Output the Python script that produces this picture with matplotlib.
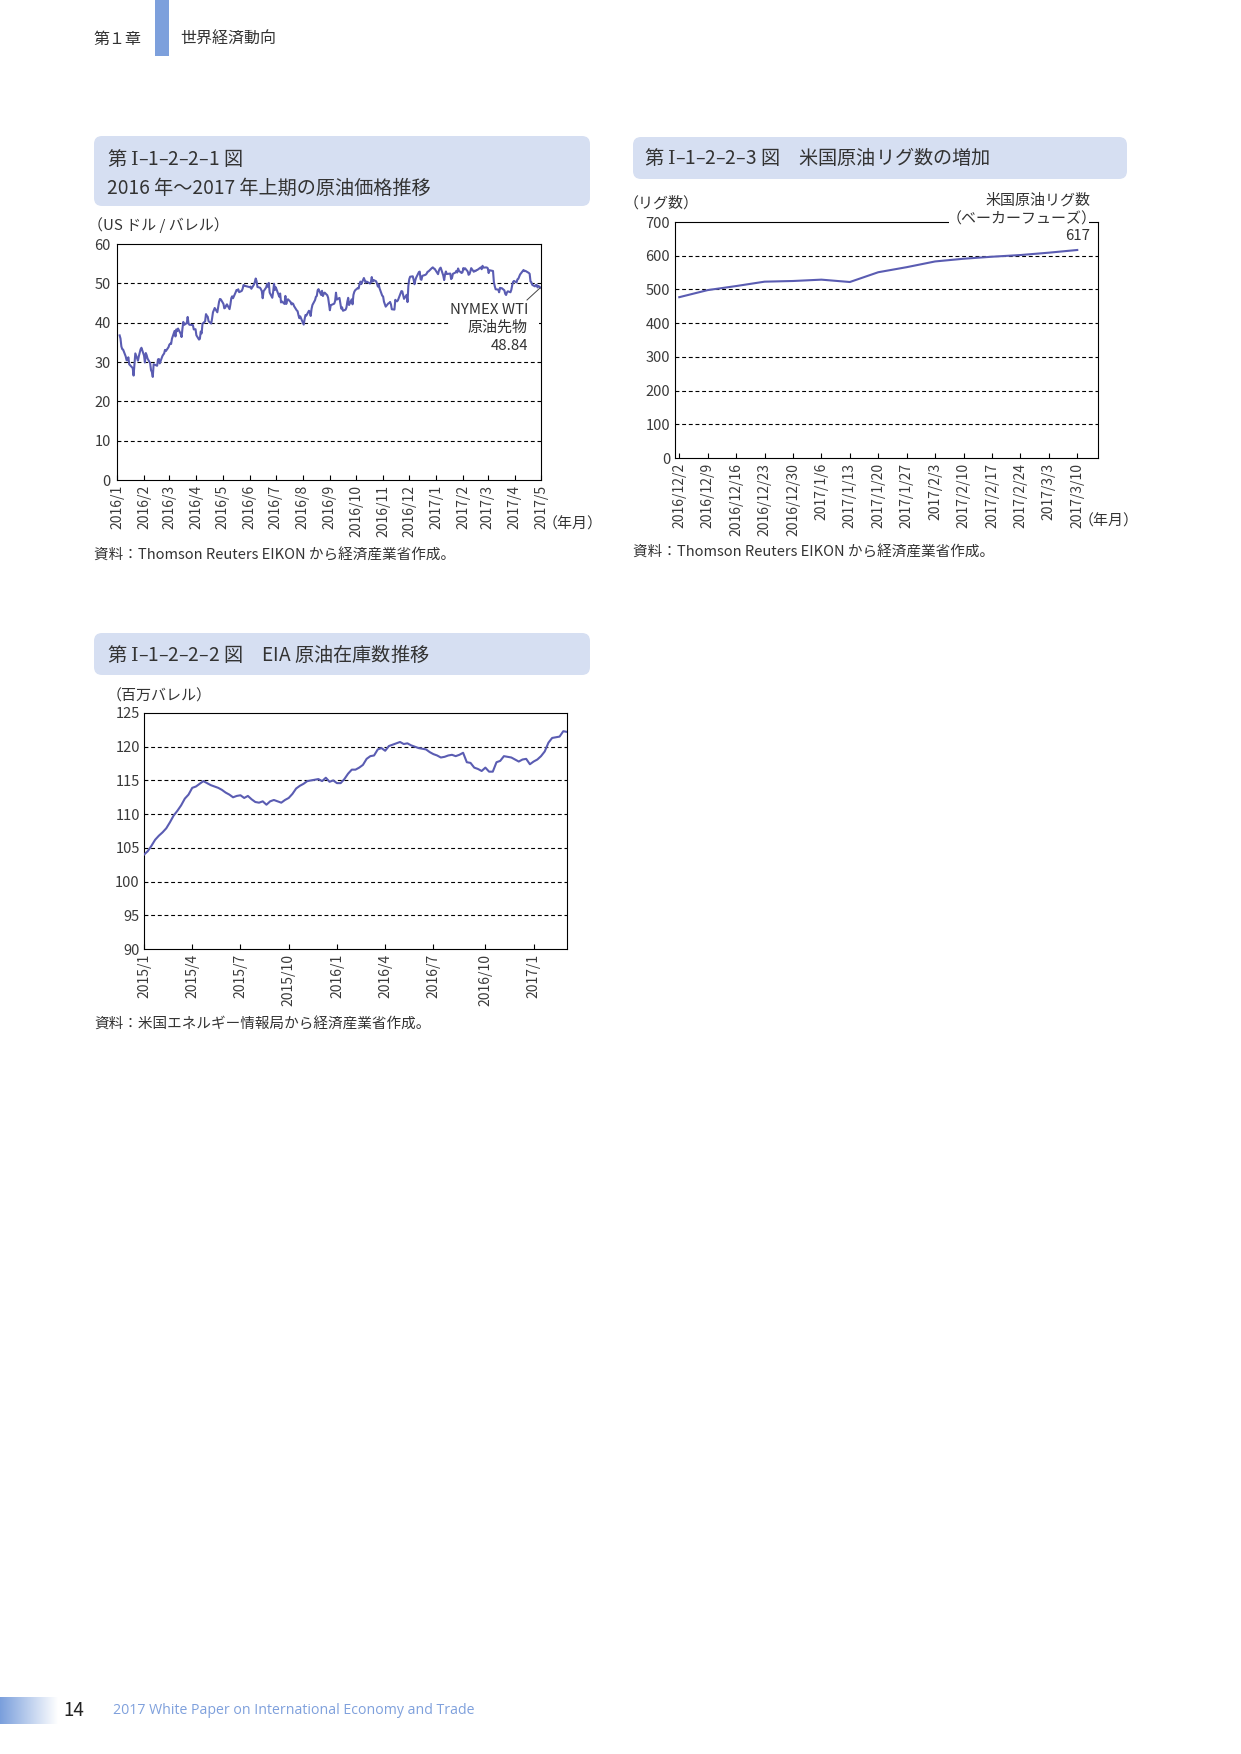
import numpy as np
import pandas as pd
import matplotlib
matplotlib.use('Agg')
from matplotlib import pyplot as plt
from matplotlib.patches import FancyBboxPatch, Rectangle
from matplotlib.colors import LinearSegmentedColormap

plt.rcParams['font.family'] = ['Noto Sans CJK JP', 'DejaVu Sans']
plt.rcParams['mathtext.fontset'] = 'dejavuserif'

# --- data: WTI front month (US$/bbl), daily closes
wti_dates = [
    "2016/1/4", "2016/1/5", "2016/1/6", "2016/1/7", "2016/1/8", "2016/1/11", "2016/1/12", "2016/1/13", "2016/1/14", "2016/1/15", "2016/1/19", "2016/1/20", "2016/1/21", "2016/1/22", "2016/1/25", "2016/1/26", "2016/1/27", "2016/1/28", "2016/1/29",
    "2016/2/1", "2016/2/2", "2016/2/3", "2016/2/4", "2016/2/5", "2016/2/8", "2016/2/9", "2016/2/10", "2016/2/11", "2016/2/12", "2016/2/16", "2016/2/17", "2016/2/18", "2016/2/19", "2016/2/22", "2016/2/23", "2016/2/24", "2016/2/25", "2016/2/26", "2016/2/29",
    "2016/3/1", "2016/3/2", "2016/3/3", "2016/3/4", "2016/3/7", "2016/3/8", "2016/3/9", "2016/3/10", "2016/3/11", "2016/3/14", "2016/3/15", "2016/3/16", "2016/3/17", "2016/3/18", "2016/3/21", "2016/3/22", "2016/3/23", "2016/3/24", "2016/3/28", "2016/3/29", "2016/3/30", "2016/3/31",
    "2016/4/1", "2016/4/4", "2016/4/5", "2016/4/6", "2016/4/7", "2016/4/8", "2016/4/11", "2016/4/12", "2016/4/13", "2016/4/14", "2016/4/15", "2016/4/18", "2016/4/19", "2016/4/20", "2016/4/21", "2016/4/22", "2016/4/25", "2016/4/26", "2016/4/27", "2016/4/28", "2016/4/29",
    "2016/5/2", "2016/5/3", "2016/5/4", "2016/5/5", "2016/5/6", "2016/5/9", "2016/5/10", "2016/5/11", "2016/5/12", "2016/5/13", "2016/5/16", "2016/5/17", "2016/5/18", "2016/5/19", "2016/5/20", "2016/5/23", "2016/5/24", "2016/5/25", "2016/5/26", "2016/5/27", "2016/5/31",
    "2016/6/1", "2016/6/2", "2016/6/3", "2016/6/6", "2016/6/7", "2016/6/8", "2016/6/9", "2016/6/10", "2016/6/13", "2016/6/14", "2016/6/15", "2016/6/16", "2016/6/17", "2016/6/20", "2016/6/21", "2016/6/22", "2016/6/23", "2016/6/24", "2016/6/27", "2016/6/28", "2016/6/29", "2016/6/30",
    "2016/7/1", "2016/7/5", "2016/7/6", "2016/7/7", "2016/7/8", "2016/7/11", "2016/7/12", "2016/7/13", "2016/7/14", "2016/7/15", "2016/7/18", "2016/7/19", "2016/7/20", "2016/7/21", "2016/7/22", "2016/7/25", "2016/7/26", "2016/7/27", "2016/7/28", "2016/7/29",
    "2016/8/1", "2016/8/2", "2016/8/3", "2016/8/4", "2016/8/5", "2016/8/8", "2016/8/9", "2016/8/10", "2016/8/11", "2016/8/12", "2016/8/15", "2016/8/16", "2016/8/17", "2016/8/18", "2016/8/19", "2016/8/22", "2016/8/23", "2016/8/24", "2016/8/25", "2016/8/26", "2016/8/29", "2016/8/30", "2016/8/31",
    "2016/9/1", "2016/9/2", "2016/9/6", "2016/9/7", "2016/9/8", "2016/9/9", "2016/9/12", "2016/9/13", "2016/9/14", "2016/9/15", "2016/9/16", "2016/9/19", "2016/9/20", "2016/9/21", "2016/9/22", "2016/9/23", "2016/9/26", "2016/9/27", "2016/9/28", "2016/9/29", "2016/9/30",
    "2016/10/3", "2016/10/4", "2016/10/5", "2016/10/6", "2016/10/7", "2016/10/10", "2016/10/11", "2016/10/12", "2016/10/13", "2016/10/14", "2016/10/17", "2016/10/18", "2016/10/19", "2016/10/20", "2016/10/21", "2016/10/24", "2016/10/25", "2016/10/26", "2016/10/27", "2016/10/28", "2016/10/31",
    "2016/11/1", "2016/11/2", "2016/11/3", "2016/11/4", "2016/11/7", "2016/11/8", "2016/11/9", "2016/11/10", "2016/11/11", "2016/11/14", "2016/11/15", "2016/11/16", "2016/11/17", "2016/11/18", "2016/11/21", "2016/11/22", "2016/11/23", "2016/11/25", "2016/11/28", "2016/11/29", "2016/11/30",
    "2016/12/1", "2016/12/2", "2016/12/5", "2016/12/6", "2016/12/7", "2016/12/8", "2016/12/9", "2016/12/12", "2016/12/13", "2016/12/14", "2016/12/15", "2016/12/16", "2016/12/19", "2016/12/20", "2016/12/21", "2016/12/22", "2016/12/23", "2016/12/27", "2016/12/28", "2016/12/29", "2016/12/30",
    "2017/1/3", "2017/1/4", "2017/1/5", "2017/1/6", "2017/1/9", "2017/1/10", "2017/1/11", "2017/1/12", "2017/1/13", "2017/1/17", "2017/1/18", "2017/1/19", "2017/1/20", "2017/1/23", "2017/1/24", "2017/1/25", "2017/1/26", "2017/1/27", "2017/1/30", "2017/1/31",
    "2017/2/1", "2017/2/2", "2017/2/3", "2017/2/6", "2017/2/7", "2017/2/8", "2017/2/9", "2017/2/10", "2017/2/13", "2017/2/14", "2017/2/15", "2017/2/16", "2017/2/17", "2017/2/21", "2017/2/22", "2017/2/23", "2017/2/24", "2017/2/27", "2017/2/28",
    "2017/3/1", "2017/3/2", "2017/3/3", "2017/3/6", "2017/3/7", "2017/3/8", "2017/3/9", "2017/3/10", "2017/3/13", "2017/3/14", "2017/3/15", "2017/3/16", "2017/3/17", "2017/3/20", "2017/3/21", "2017/3/22", "2017/3/23", "2017/3/24", "2017/3/27", "2017/3/28", "2017/3/29", "2017/3/30", "2017/3/31",
    "2017/4/3", "2017/4/4", "2017/4/5", "2017/4/6", "2017/4/7", "2017/4/10", "2017/4/11", "2017/4/12", "2017/4/13", "2017/4/17", "2017/4/18", "2017/4/19", "2017/4/20", "2017/4/21", "2017/4/24", "2017/4/25", "2017/4/26", "2017/4/27", "2017/4/28",
    "2017/5/1",
]
wti_price = [
    36.76, 35.97, 33.97, 33.27, 33.16, 31.41, 30.44, 30.48, 31.20, 29.42, 28.46, 26.55, 29.53, 32.19, 30.34, 31.45, 32.30, 33.22, 33.62,
    31.62, 29.88, 32.28, 31.72, 30.89, 29.69, 27.94, 27.45, 26.21, 29.44, 29.04, 30.66, 30.77, 29.64, 31.48, 31.87, 32.15, 33.07, 32.78, 33.75,
    34.40, 34.66, 34.57, 35.92, 37.90, 36.50, 38.29, 37.84, 38.50, 37.18, 36.34, 38.46, 40.20, 39.44, 39.91, 41.45, 39.79, 39.46, 39.39, 38.28, 38.32, 38.34,
    36.79, 35.70, 35.89, 37.75, 37.26, 39.72, 40.36, 42.17, 41.76, 41.50, 40.36, 39.78, 41.08, 42.63, 43.18, 43.73, 42.64, 44.04, 45.33, 46.03, 45.92,
    44.78, 43.65, 43.78, 44.32, 44.66, 43.44, 44.66, 46.23, 46.70, 46.21, 47.72, 48.31, 48.19, 48.49, 47.75, 48.08, 48.62, 49.56, 49.48, 49.33, 49.10,
    49.01, 49.17, 48.62, 49.69, 50.36, 51.23, 50.56, 49.07, 48.88, 48.49, 48.01, 46.21, 47.98, 48.96, 49.85, 49.13, 50.11, 47.64, 46.33, 47.85, 49.88, 48.33,
    48.99, 46.60, 47.43, 45.14, 45.41, 44.76, 46.80, 44.75, 45.68, 45.95, 45.24, 44.65, 44.94, 44.75, 44.19, 43.13, 42.92, 41.92, 41.14, 41.60,
    40.06, 39.51, 40.83, 41.93, 41.80, 43.02, 42.77, 41.71, 43.49, 44.49, 45.74, 46.58, 46.79, 48.22, 48.52, 47.05, 48.10, 46.77, 47.33, 47.64, 46.98, 46.35, 44.70,
    43.16, 44.44, 44.83, 45.50, 47.62, 45.88, 46.29, 44.90, 43.58, 43.91, 43.03, 43.30, 43.85, 45.34, 46.32, 44.48, 45.93, 44.67, 47.05, 47.83, 48.24,
    48.81, 48.69, 49.83, 50.44, 49.81, 51.35, 50.79, 50.18, 50.44, 50.35, 49.94, 50.29, 51.60, 50.43, 50.85, 50.52, 49.96, 49.18, 49.72, 48.70, 46.86,
    46.67, 45.34, 44.66, 44.07, 44.89, 44.98, 45.27, 44.66, 43.41, 43.32, 45.81, 45.57, 45.42, 45.69, 47.49, 48.03, 47.96, 46.06, 47.08, 45.23, 49.44,
    51.06, 51.68, 51.79, 50.93, 49.77, 50.84, 51.50, 52.83, 52.98, 51.04, 50.90, 51.90, 52.12, 52.23, 52.49, 52.95, 53.02, 53.90, 54.06, 53.77, 53.72,
    52.33, 53.26, 53.76, 53.99, 51.96, 50.82, 52.25, 53.01, 52.37, 52.48, 51.08, 51.37, 52.42, 52.75, 53.18, 52.75, 53.78, 53.17, 52.63, 52.81,
    53.88, 53.54, 53.83, 53.01, 52.17, 52.34, 53.00, 53.86, 52.93, 53.20, 53.11, 53.36, 53.40, 54.06, 53.59, 54.45, 53.99, 54.05, 54.01,
    53.83, 52.61, 53.33, 53.20, 53.14, 50.28, 49.28, 48.49, 48.40, 47.72, 48.86, 48.75, 48.78, 48.22, 47.34, 47.04, 47.70, 47.97, 47.73, 48.37, 49.51, 50.35, 50.60,
    50.24, 51.03, 51.15, 51.70, 52.24, 53.08, 53.40, 53.11, 53.18, 52.65, 52.41, 50.44, 50.27, 49.62, 49.23, 49.56, 49.62, 48.97, 49.33,
    48.84,
]

# --- data: US oil rig count (Baker Hughes), weekly
rig_labels = ["2016/12/2", "2016/12/9", "2016/12/16", "2016/12/23", "2016/12/30",
              "2017/1/6", "2017/1/13", "2017/1/20", "2017/1/27", "2017/2/3",
              "2017/2/10", "2017/2/17", "2017/2/24", "2017/3/3", "2017/3/10"]
rig_count = [477, 498, 510, 523, 525, 529, 522, 551, 566, 583, 591, 597, 602, 609, 617]

# --- data: EIA crude stocks (million bbl), weekly from 2015/1/2
eia_stock = [
    104.0, 104.5, 105.3, 106.2, 106.8, 107.3, 107.9, 108.8, 109.8, 110.5,
    111.3, 112.3, 112.9, 113.9, 114.1, 114.5, 114.9, 114.6, 114.3, 114.1,
    113.9, 113.6, 113.2, 112.9, 112.5, 112.7, 112.8, 112.4, 112.7, 112.2,
    111.8, 111.7, 111.9, 111.4, 111.9, 112.1, 111.9, 111.7, 112.1, 112.4,
    113.0, 113.8, 114.2, 114.5, 114.9, 115.0, 115.1, 115.2, 114.9, 115.4,
    114.8, 115.0, 114.6, 114.6, 115.2, 116.0, 116.6, 116.6, 116.9, 117.3,
    118.2, 118.6, 118.7, 119.6, 119.8, 119.4, 120.1, 120.3, 120.5, 120.7,
    120.4, 120.5, 120.2, 120.0, 119.8, 119.7, 119.6, 119.2, 118.9, 118.7,
    118.4, 118.5, 118.7, 118.8, 118.6, 118.8, 119.1, 117.7, 117.6, 116.9,
    116.7, 116.4, 116.9, 116.3, 116.3, 117.7, 117.9, 118.6, 118.5, 118.4,
    118.1, 117.8, 118.1, 118.2, 117.4, 117.8, 118.1, 118.6, 119.3, 120.6,
    121.3, 121.4, 121.5, 122.3, 122.2,
]
eia_ticks = ["2015/1", "2015/4", "2015/7", "2015/10", "2016/1", "2016/4", "2016/7", "2016/10", "2017/1"]

W, H = 1241, 1754
LINE = '#5a5cb2'
TXT = '#333333'
TICK = '#3a3a3a'
FS = 10
NOTE = 10.8

fig = plt.figure(figsize=(W / 100, H / 100), dpi=100)
fig.patch.set_facecolor('white')


def rect(x0, y0, x1, y1):
    return [x0 / W, 1 - y1 / H, (x1 - x0) / W, (y1 - y0) / H]


def style(ax, grid_vals, ypad):
    for s in ax.spines.values():
        s.set_linewidth(0.8)
        s.set_color('black')
    for v in grid_vals:
        ax.axhline(v, color='black', lw=0.8, ls=(0, (3.5, 2.5)), zorder=1)
    ax.tick_params(axis='y', length=0, pad=ypad, labelsize=FS + 0.5, labelcolor=TICK)
    ax.tick_params(axis='x', direction='in', length=3.6, width=0.8, pad=3.5,
                   labelsize=FS, labelcolor=TICK, labelrotation=90)


# chart 1: WTI
ax1 = fig.add_axes(rect(117, 244, 541, 480))
wti_x = pd.to_datetime(wti_dates, format='%Y/%m/%d')
ax1.plot(wti_x, wti_price, color=LINE, lw=1.5, zorder=3)
months = pd.date_range('2016-01-01', '2017-05-01', freq='MS')
ax1.set_xlim(months[0], months[-1])
ax1.set_xticks(months)
ax1.set_xticklabels([f"{d.year}/{d.month}" for d in months])
ax1.set_ylim(0, 60)
ax1.set_yticks(range(0, 61, 10))
style(ax1, range(10, 60, 10), 4.5)

# chart 3: rig count
ax3 = fig.add_axes(rect(675, 222, 1098, 458))
rx = np.arange(len(rig_count))
ax3.plot(rx, rig_count, color=LINE, lw=1.5, zorder=3)
ax3.set_xlim(-0.15, len(rig_count) - 1 + 0.73)
ax3.set_xticks(rx)
ax3.set_xticklabels(rig_labels)
ax3.set_ylim(0, 700)
ax3.set_yticks(range(0, 701, 100))
style(ax3, range(100, 700, 100), 3.5)

# chart 2: EIA stocks
ax2 = fig.add_axes(rect(144, 713, 567, 949))
eia_x = pd.date_range('2015-01-02', periods=len(eia_stock), freq='W-FRI')
ax2.plot(eia_x, eia_stock, color=LINE, lw=1.5, zorder=3)
ax2.set_xlim(eia_x[0], eia_x[-1])
tick_pos = [eia_x[(eia_x.year == int(t.split('/')[0])) & (eia_x.month == int(t.split('/')[1]))][0]
            for t in eia_ticks]
ax2.set_xticks(tick_pos)
ax2.set_xticklabels(eia_ticks)
ax2.set_ylim(90, 125)
ax2.set_yticks(range(90, 126, 5))
style(ax2, range(95, 125, 5), 3)

# page overlay in pixel coords
top = fig.add_axes([0, 0, 1, 1], zorder=10)
top.set_axis_off()


def put(x, y, s, fs=FS, ha='left', color=TXT, **kw):
    top.text(x, y, s, fontsize=fs, ha=ha, va='center', color=color, **kw)


# header
top.add_patch(Rectangle((155, 0), 14, 56, fc='#7da0dc', ec='none'))
put(93, 39, '第１章', fs=11.5)
put(180, 39, '世界経済動向', fs=11.5)

# title boxes
for (x0, y0, x1, y1) in [(94, 136, 590, 206), (633, 137, 1127, 179), (94, 633, 590, 675)]:
    top.add_patch(FancyBboxPatch((x0, y0), x1 - x0, y1 - y0,
                                 boxstyle='round,pad=0,rounding_size=8',
                                 fc='#d6dff2', ec='none'))
TFS = 13.8
put(107, 159, r'第 $\mathrm{I}$–1–2–2–1 図', fs=TFS)
put(107, 188, '2016 年～2017 年上期の原油価格推移', fs=TFS)
put(644, 158, r'第 $\mathrm{I}$–1–2–2–3 図　米国原油リグ数の増加', fs=TFS)
put(107, 655, r'第 $\mathrm{I}$–1–2–2–2 図　EIA 原油在庫数推移', fs=TFS)

# chart 1 texts
put(88, 225, '（US ドル / バレル）', fs=NOTE)
top.add_patch(Rectangle((450, 298), 89, 58, fc='white', ec='none'))
put(528, 310, 'NYMEX WTI', ha='right', fs=NOTE)
put(528, 328, '原油先物', ha='right', fs=NOTE)
put(528, 346, '48.84', ha='right', fs=NOTE)
top.plot([527, 540], [300, 288], color='#444444', lw=0.7)
put(543, 524, '（年月）', fs=NOTE)
put(94, 556, '資料：Thomson Reuters EIKON から経済産業省作成。', fs=10.5)

# chart 3 texts
put(624, 203, '（リグ数）', fs=NOTE)
put(1090, 200, '米国原油リグ数', ha='right', fs=NOTE)
top.add_patch(Rectangle((949, 213), 140, 17, fc='white', ec='none'))
put(1097, 219, '（ベーカーフューズ）', ha='right', fs=NOTE)
put(1090, 236, '617', ha='right', fs=NOTE)
put(1079, 521, '（年月）', fs=NOTE)
put(633, 553, '資料：Thomson Reuters EIKON から経済産業省作成。', fs=10.5)

# chart 2 texts
put(107, 696, '（百万バレル）', fs=NOTE)
put(94, 1025, '資料：米国エネルギー情報局から経済産業省作成。', fs=10.5)

# footer
grad = LinearSegmentedColormap.from_list('g', ['#7a9fdc', '#ffffff'])
top.imshow(np.linspace(0, 1, 256)[None, :], cmap=grad, extent=[0, 58, 1724, 1697], aspect='auto')
put(63, 1711, '14', fs=13.5, color='#222222')
put(113, 1711, '2017 White Paper on International Economy and Trade', fs=10.2,
    color='#7fa0dc', family=['Open Sans', 'DejaVu Sans'])

top.set_xlim(0, W)
top.set_ylim(H, 0)

fig.savefig('out.png', dpi=100)
